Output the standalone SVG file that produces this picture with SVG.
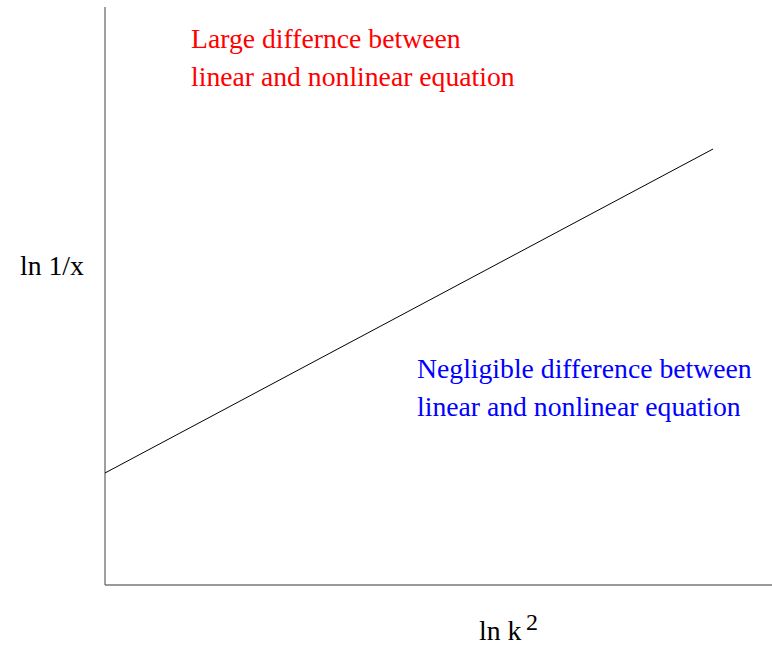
<svg xmlns="http://www.w3.org/2000/svg" width="772" height="645" viewBox="0 0 772 645">
<style>
text { font-size: 27.7px; }
.axis { stroke: #777; stroke-width: 1.4; fill: none; }
.red { fill: #ff0000; }
.blue { fill: #0000ff; }
.lbl { fill: #000; }
</style>
<rect width="772" height="645" fill="#fff"/>
<g id="axes">
<line class="axis" x1="105" y1="7" x2="105" y2="585"/>
<line class="axis" x1="105" y1="585" x2="772" y2="585"/>
</g>
<g id="connectors">
<line x1="105" y1="473" x2="713" y2="149" stroke="#000" stroke-width="1"/>
</g>
<g font-family="'Liberation Serif', 'DejaVu Serif', serif">
<g id="label-large">
<text class="red" x="191" y="48">Large differnce between</text>
<text class="red" x="191" y="86">linear and nonlinear equation</text>
</g>
<g id="label-negligible">
<text class="blue" x="417" y="378">Negligible difference between</text>
<text class="blue" x="417" y="416">linear and nonlinear equation</text>
</g>
<g id="ylabel">
<text class="lbl" x="20" y="275">ln 1/x</text>
</g>
<g id="xlabel">
<text class="lbl" x="479" y="640">ln k</text>
<text class="lbl" x="526" y="630" style="font-size:24px">2</text>
</g>
</g>
</svg>
